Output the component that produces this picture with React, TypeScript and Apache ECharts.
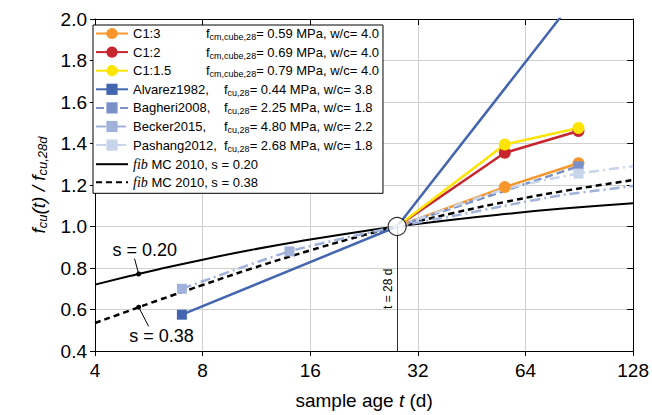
import React, { useEffect, useRef } from 'react';
import * as echarts from 'echarts';

// ---- data ----
const xTicks = [4, 8, 16, 32, 64, 128];
const c13 = [[28, 1.0], [56, 1.19], [90, 1.305]];
const c12 = [[28, 1.0], [56, 1.355], [90, 1.46]];
const c115 = [[28, 1.0], [56, 1.395], [90, 1.475]];
const alvarez = [[7, 0.575], [28, 1.0], [90, 2.12]];
const bagheri = [[28, 1.0], [90, 1.29]];
const becker = [[7, 0.7], [14, 0.88], [28, 1.0], [40, 1.05], [56, 1.1], [80, 1.15], [128, 1.195]];
const pashang = [[28, 1.0], [56, 1.18], [90, 1.255], [128, 1.29]];
const fib020 = [[4, 0.72], [5, 0.761], [6, 0.793], [8, 0.84], [11, 0.888], [16, 0.937], [22, 0.975], [28, 1.0], [40, 1.033], [56, 1.06], [80, 1.085], [128, 1.112]];
const fib038 = [[4, 0.535], [5, 0.595], [6, 0.644], [8, 0.718], [11, 0.798], [16, 0.885], [22, 0.953], [28, 1.0], [40, 1.064], [56, 1.118], [80, 1.168], [128, 1.224]];
const refPoint = [[28, 1.0]];

// annotation anchor points (data coordinates)
const s020Leader = [[5.3, 0.771], [5.16, 0.845]];
const s020Text = [5.51, 0.887];
const s038Leader = [[5.3, 0.611], [5.65, 0.519]];
const s038Text = [6.14, 0.472];

const c1Names = ['C1:3', 'C1:2', 'C1:1.5'];
const c1Strength = ['0.59', '0.69', '0.79'];
const c1Wc = ['4.0', '4.0', '4.0'];
const litNames = ['Alvarez1982', 'Bagheri2008', 'Becker2015', 'Pashang2012'];
const litStrength = ['0.44', '2.25', '4.80', '2.68'];
const litWc = ['3.8', '1.8', '2.2', '1.8'];
const fibNames = ['fib MC 2010, s = 0.20', 'fib MC 2010, s = 0.38'];
const fibS = ['0.20', '0.38'];

const FONT = '"Liberation Sans", Arial, Helvetica, sans-serif';
const SERIF = '"Liberation Serif", "DejaVu Serif", serif';

const COL = {
  orange: '#F7962A',
  red: '#C8262F',
  yellow: '#FFE400',
  alvarez: '#4465B0',
  bagheri: '#7990C8',
  becker: '#A0B2DA',
  pashang: '#C8D4EA',
};

function withSymbols(data: number[][], showAt: number[]) {
  return data.map((d) => (showAt.includes(d[0]) ? { value: d } : { value: d, symbol: 'none' }));
}

function annotation(text: string, leader: number[][], textPos: number[]) {
  return {
    markLine: {
      silent: true,
      symbol: ['circle', 'none'],
      symbolSize: 5,
      lineStyle: { color: '#000', width: 1, type: 'solid' },
      label: { show: false },
      emphasis: { disabled: true },
      data: [[{ coord: leader[0] }, { coord: leader[1] }]],
    },
    markPoint: {
      silent: true,
      symbol: 'circle',
      symbolSize: 0,
      label: { show: true, position: 'inside', formatter: text, fontSize: 18, color: '#000', fontFamily: FONT },
      emphasis: { disabled: true },
      data: [{ coord: textPos }],
    },
  };
}

export default function App() {
  const ref = useRef<HTMLDivElement>(null);
  useEffect(() => {
    document.body.style.margin = '0';
    if (!ref.current) return;
    const chart = echarts.init(ref.current, undefined, { renderer: 'svg' });

    const legendMap: Record<string, string> = {};
    c1Names.forEach((n, i) => {
      legendMap[n] = `{n|${n}}{f|f}{s|cm,cube,28}{t|= ${c1Strength[i]} MPa, w/c= ${c1Wc[i]}}`;
    });
    litNames.forEach((n, i) => {
      legendMap[n] = `{m|${n},}{f|f}{s|cu,28}{t|= ${litStrength[i]} MPa, w/c= ${litWc[i]}}`;
    });
    fibNames.forEach((n, i) => {
      legendMap[n] = `{i|fib}{t| MC 2010, s = ${fibS[i]}}`;
    });

    const dataLine = (name: string, data: any[], color: string, symbol: string, size: number, type: any, width = 2.5) => ({
      name,
      type: 'line',
      data,
      symbol,
      symbolSize: size,
      showSymbol: true,
      lineStyle: { color, width, type },
      itemStyle: { color },
      emphasis: { disabled: true },
    });

    const option: any = {
      animation: false,
      textStyle: { fontFamily: FONT },
      grid: { left: 95, right: 15, top: 19, bottom: 62, containLabel: false },
      legend: {
        orient: 'vertical',
        left: 93,
        top: 25,
        itemWidth: 32,
        itemHeight: 14,
        itemGap: 4.1,
        padding: [2, 4, 4, 2],
        backgroundColor: '#fff',
        borderColor: '#000',
        borderWidth: 1,
        borderRadius: 0,
        selectedMode: false,
        data: [
          ...c1Names,
          ...litNames,
          ...fibNames.map((n) => ({ name: n, itemStyle: { opacity: 0 } })),
        ],
        formatter: (name: string) => legendMap[name] || name,
        textStyle: {
          fontSize: 13,
          color: '#000',
          fontFamily: FONT,
          rich: {
            n: { fontSize: 13, width: 73, lineHeight: 16, fontFamily: FONT, color: '#000' },
            m: { fontSize: 13, width: 91, lineHeight: 16, fontFamily: FONT, color: '#000' },
            f: { fontSize: 13, lineHeight: 16, fontFamily: FONT, color: '#000' },
            s: { fontSize: 9, lineHeight: 8, verticalAlign: 'bottom', fontFamily: FONT, color: '#000' },
            t: { fontSize: 13, lineHeight: 16, fontFamily: FONT, color: '#000' },
            i: { fontSize: 14, lineHeight: 16, fontStyle: 'italic', fontFamily: SERIF, color: '#000' },
          },
        },
      },
      xAxis: [
        {
          type: 'log',
          logBase: 2,
          min: xTicks[0],
          max: xTicks[xTicks.length - 1],
          position: 'bottom',
          axisLine: { show: true, lineStyle: { color: '#000', width: 1 } },
          axisTick: { show: true, inside: false, length: 5, lineStyle: { color: '#000' } },
          axisLabel: { fontSize: 19, color: '#000', margin: 10, fontFamily: FONT },
          splitLine: { show: true, lineStyle: { color: '#cfcfcf', width: 1 } },
          name: 'sample age {i|t} (d)',
          nameLocation: 'middle',
          nameGap: 40,
          nameTextStyle: {
            fontSize: 19,
            color: '#000',
            fontFamily: FONT,
            rich: { i: { fontSize: 19, fontStyle: 'italic', fontFamily: FONT, color: '#000' } },
          },
        },
        {
          type: 'log',
          logBase: 2,
          min: xTicks[0],
          max: xTicks[xTicks.length - 1],
          position: 'top',
          axisLine: { show: true, lineStyle: { color: '#000', width: 1 } },
          axisTick: { show: true, inside: true, length: 6, lineStyle: { color: '#000' } },
          axisLabel: { show: false },
          splitLine: { show: false },
        },
      ],
      yAxis: [
        {
          type: 'value',
          min: 0.4,
          max: 2.0,
          interval: 0.2,
          axisLine: { show: true, lineStyle: { color: '#000', width: 1 } },
          axisTick: { show: true, inside: false, length: 5, lineStyle: { color: '#000' } },
          axisLabel: { fontSize: 19, color: '#000', margin: 8, fontFamily: FONT, formatter: (v: number) => v.toFixed(1) },
          splitLine: { show: true, lineStyle: { color: '#cfcfcf', width: 1 } },
          name: '{i|f}{s|cu}{i|(t) / f}{s|cu,28d}',
          nameLocation: 'middle',
          nameRotate: 90,
          nameGap: 46,
          nameTextStyle: {
            color: '#000',
            rich: {
              i: { fontSize: 19, fontStyle: 'italic', fontFamily: FONT, color: '#000', lineHeight: 22 },
              s: { fontSize: 13, fontStyle: 'italic', fontFamily: FONT, color: '#000', lineHeight: 12, verticalAlign: 'bottom' },
            },
          },
        },
        {
          type: 'value',
          min: 0.4,
          max: 2.0,
          interval: 0.2,
          position: 'right',
          axisLine: { show: true, lineStyle: { color: '#000', width: 1 } },
          axisTick: { show: true, inside: true, length: 6, lineStyle: { color: '#000' } },
          axisLabel: { show: false },
          splitLine: { show: false },
        },
      ],
      series: [
        {
          ...dataLine(fibNames[0], fib020, '#000', 'none', 0, 'solid', 2),
          smooth: true,
          ...annotation('s = 0.20', s020Leader, s020Text),
        },
        {
          ...dataLine(fibNames[1], fib038, '#000', 'none', 0, [6, 4], 2.5),
          smooth: true,
          ...annotation('s = 0.38', s038Leader, s038Text),
        },
        dataLine(c1Names[0], withSymbols(c13, [56, 90]), COL.orange, 'circle', 12, 'solid'),
        dataLine(c1Names[1], withSymbols(c12, [56, 90]), COL.red, 'circle', 12, 'solid'),
        dataLine(c1Names[2], withSymbols(c115, [56, 90]), COL.yellow, 'circle', 12, 'solid'),
        dataLine(litNames[0], withSymbols(alvarez, [7]), COL.alvarez, 'rect', 10, 'solid'),
        dataLine(litNames[1], withSymbols(bagheri, [90]), COL.bagheri, 'rect', 10, [8, 4]),
        { ...dataLine(litNames[2], withSymbols(becker, [7, 14]), COL.becker, 'rect', 10, [10, 4, 2, 4]), smooth: 0.2 },
        { ...dataLine(litNames[3], withSymbols(pashang, [90]), COL.pashang, 'rect', 10, [10, 4, 2, 4]), smooth: 0.2 },
        {
          name: 'ref',
          type: 'scatter',
          data: refPoint,
          symbol: 'circle',
          symbolSize: 18,
          z: 10,
          itemStyle: { color: '#fff', borderColor: '#000', borderWidth: 1.2 },
          emphasis: { disabled: true },
          markLine: {
            silent: true,
            symbol: 'none',
            lineStyle: { color: '#333', width: 1, type: 'solid' },
            label: { show: true, position: 'insideMiddleTop', formatter: 't = 28 d', fontSize: 12, color: '#000', fontFamily: FONT, distance: 3 },
            emphasis: { disabled: true },
            data: [[{ coord: [28, 0.4] }, { coord: [28, 1.0] }]],
          },
        },
      ],
    };
    chart.setOption(option);
    return () => chart.dispose();
  }, []);
  return <div ref={ref} style={{ width: 652, height: 415 }} />;
}
